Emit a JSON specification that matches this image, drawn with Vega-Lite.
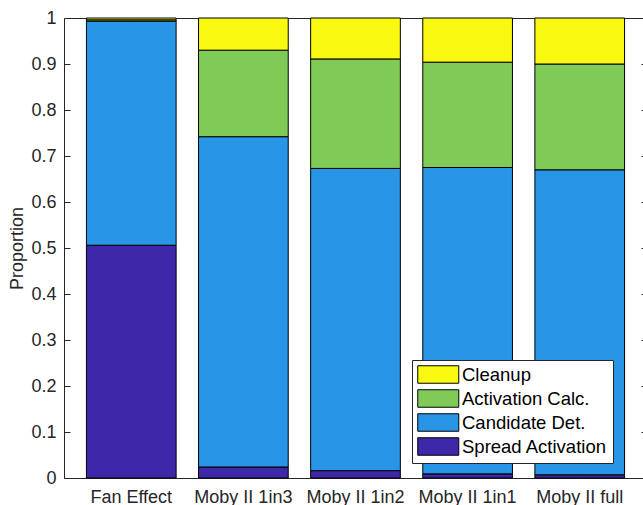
{
  "$schema": "https://vega.github.io/schema/vega-lite/v6.json",
  "autosize": "none",
  "width": 579,
  "height": 460,
  "padding": {"left": 64, "top": 18, "right": 0, "bottom": 27},
  "background": "white",
  "config": {
    "font": "Liberation Sans",
    "view": {"stroke": null},
    "axis": {"labelFont": "Liberation Sans", "titleFont": "Liberation Sans", "grid": false}
  },
  "data": {
    "values": [
      {"group": "Fan Effect", "stage": "Spread Activation", "value": 0.506},
      {"group": "Fan Effect", "stage": "Candidate Det.", "value": 0.487},
      {"group": "Fan Effect", "stage": "Activation Calc.", "value": 0.003},
      {"group": "Fan Effect", "stage": "Cleanup", "value": 0.004},
      {"group": "Moby II 1in3", "stage": "Spread Activation", "value": 0.024},
      {"group": "Moby II 1in3", "stage": "Candidate Det.", "value": 0.718},
      {"group": "Moby II 1in3", "stage": "Activation Calc.", "value": 0.188},
      {"group": "Moby II 1in3", "stage": "Cleanup", "value": 0.070},
      {"group": "Moby II 1in2", "stage": "Spread Activation", "value": 0.016},
      {"group": "Moby II 1in2", "stage": "Candidate Det.", "value": 0.657},
      {"group": "Moby II 1in2", "stage": "Activation Calc.", "value": 0.238},
      {"group": "Moby II 1in2", "stage": "Cleanup", "value": 0.089},
      {"group": "Moby II 1in1", "stage": "Spread Activation", "value": 0.009},
      {"group": "Moby II 1in1", "stage": "Candidate Det.", "value": 0.666},
      {"group": "Moby II 1in1", "stage": "Activation Calc.", "value": 0.229},
      {"group": "Moby II 1in1", "stage": "Cleanup", "value": 0.096},
      {"group": "Moby II full", "stage": "Spread Activation", "value": 0.007},
      {"group": "Moby II full", "stage": "Candidate Det.", "value": 0.663},
      {"group": "Moby II full", "stage": "Activation Calc.", "value": 0.230},
      {"group": "Moby II full", "stage": "Cleanup", "value": 0.100}
    ]
  },
  "transform": [
    {"calculate": "indexof(['Spread Activation','Candidate Det.','Activation Calc.','Cleanup'], datum.stage)", "as": "ord"}
  ],
  "resolve": {"axis": {"x": "independent", "y": "independent"}},
  "layer": [
    {
      "mark": {"type": "bar", "stroke": "black", "strokeWidth": 1, "opacity": 1},
      "encoding": {
        "x": {
          "field": "group", "type": "nominal", "sort": null,
          "scale": {"range": [0, 583], "paddingInner": 0.2, "paddingOuter": 0.2},
          "axis": {
            "orient": "bottom", "title": null, "labelAngle": 0, "labelFontSize": 18,
            "labelColor": "#262626", "domainColor": "#262626", "tickColor": "#262626",
            "tickSize": -6, "labelPadding": 16, "domainWidth": 1
          }
        },
        "y": {
          "field": "value", "type": "quantitative", "stack": "zero",
          "scale": {"domain": [0, 1], "nice": false, "zero": true},
          "axis": {
            "orient": "left", "title": "Proportion", "titleFontSize": 18, "titleFontWeight": "normal",
            "titleColor": "#262626", "titlePadding": 4,
            "values": [0, 0.1, 0.2, 0.3, 0.4, 0.5, 0.6, 0.7, 0.8, 0.9, 1],
            "format": "~g", "labelFontSize": 18, "labelColor": "#262626",
            "domainColor": "#262626", "tickColor": "#262626", "tickSize": -6, "labelPadding": 14
          }
        },
        "color": {
          "field": "stage", "type": "nominal",
          "scale": {
            "domain": ["Cleanup", "Activation Calc.", "Candidate Det.", "Spread Activation"],
            "range": ["#F8F811", "#80CB58", "#2895E7", "#3E27A9"]
          },
          "legend": {
            "orient": "none", "legendX": 348, "legendY": 342, "title": null,
            "fillColor": "white", "strokeColor": "#262626", "padding": 5,
            "symbolType": "M-1,-1H3.69V1H-1Z", "symbolSize": 306,
            "symbolStrokeColor": "black", "symbolStrokeWidth": 1, "symbolOpacity": 1,
            "labelFontSize": 18.5, "labelFont": "Liberation Sans", "labelColor": "black",
            "labelOffset": 26, "rowPadding": 1
          }
        },
        "order": {"field": "ord", "type": "quantitative"}
      }
    },
    {
      "mark": {"type": "rule", "strokeOpacity": 0},
      "encoding": {
        "x": {
          "field": "group", "type": "nominal", "sort": null,
          "axis": {
            "orient": "top", "title": null, "labels": false,
            "domainColor": "#262626", "tickColor": "#262626", "tickSize": -6
          }
        },
        "y": {
          "field": "value", "type": "quantitative", "stack": null,
          "axis": {
            "orient": "right", "title": null, "labels": false, "offset": 4,
            "values": [0, 0.1, 0.2, 0.3, 0.4, 0.5, 0.6, 0.7, 0.8, 0.9, 1],
            "domainColor": "#262626", "tickColor": "#262626", "tickSize": -6
          }
        }
      }
    }
  ]
}
